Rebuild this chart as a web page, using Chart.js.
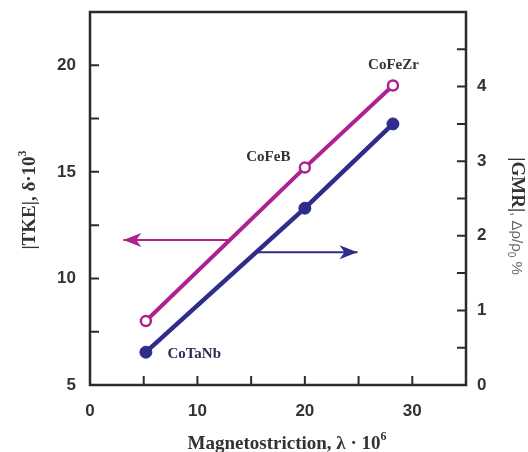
<!DOCTYPE html>
<html>
<head>
<meta charset="utf-8">
<script src="https://cdn.jsdelivr.net/npm/chart.js@4.4.1/dist/chart.umd.min.js"></script>
<style>
  html, body { margin: 0; padding: 0; background: #fff; }
  #wrap { width: 528px; height: 452px; }
</style>
</head>
<body>
<div id="wrap"><canvas id="chart"></canvas></div>
<script>
// ---- data ----
const lambdaX = [5.2, 20.0, 28.2];          // magnetostriction, λ·10^6
const tkeValues = [8.0, 15.2, 19.05];        // |TKE|, δ·10^3 (left axis)
const gmrValues = [0.44, 2.37, 3.5];         // |GMR|, Δρ/ρ0 % (right axis)
const alloyNames = ["CoFeZr", "CoFeB", "CoTaNb"];
const alloyLabelX = [28.25, 16.6, 9.7];      // label anchors, x units
const alloyLabelY = [20.0, 15.67, 6.46];     // label anchors, left axis units

// arrows telling which axis each line uses
const tkeArrowX = [13.0, 3.1];
const tkeArrowY = [11.8, 11.8];
const gmrArrowX = [15.4, 24.9];
const gmrArrowY = [1.78, 1.78];

const xTickLabels = [0, 10, 20, 30];
const leftTickLabels = [5, 10, 15, 20];
const rightTickLabels = [0, 1, 2, 3, 4];

const MAGENTA = "#AE2290";
const BLUE = "#2E2D8B";
const AXIS = "#2b2b2b";
const TICK = 9;

const pts = (xs, ys) => xs.map((x, i) => ({ x, y: ys[i] }));

// frame, inward ticks, arrowheads, labels and titles
const decor = {
  id: "decor",
  beforeDatasetsDraw(chart) {
    const { ctx, chartArea: a, scales } = chart;
    ctx.save();
    ctx.strokeStyle = AXIS;
    ctx.lineWidth = 2;
    ctx.beginPath();
    scales.x.ticks.forEach(t => {
      const px = scales.x.getPixelForValue(t.value);
      ctx.moveTo(px, a.bottom);
      ctx.lineTo(px, a.bottom - TICK);
    });
    scales.y.ticks.forEach(t => {
      const py = scales.y.getPixelForValue(t.value);
      ctx.moveTo(a.left, py);
      ctx.lineTo(a.left + TICK, py);
    });
    scales.y1.ticks.forEach(t => {
      const py = scales.y1.getPixelForValue(t.value);
      ctx.moveTo(a.right, py);
      ctx.lineTo(a.right - TICK, py);
    });
    ctx.stroke();
    ctx.lineWidth = 2.5;
    ctx.strokeRect(a.left, a.top, a.right - a.left, a.bottom - a.top);
    ctx.restore();
  },
  afterDatasetsDraw(chart) {
    const { ctx, scales } = chart;
    ctx.save();

    // arrowheads at the last point of the arrow datasets
    [2, 3].forEach(i => {
      const meta = chart.getDatasetMeta(i);
      const p0 = meta.data[0], p1 = meta.data[1];
      const ang = Math.atan2(p1.y - p0.y, p1.x - p0.x);
      ctx.save();
      ctx.translate(p1.x, p1.y);
      ctx.rotate(ang);
      ctx.fillStyle = chart.data.datasets[i].borderColor;
      ctx.beginPath();
      ctx.moveTo(0, 0);
      ctx.lineTo(-18, -7);
      ctx.lineTo(-13, 0);
      ctx.lineTo(-18, 7);
      ctx.closePath();
      ctx.fill();
      ctx.restore();
    });

    // alloy names
    ctx.font = "bold 15px 'Liberation Serif', 'Times New Roman', serif";
    ctx.textAlign = "center";
    ctx.textBaseline = "middle";
    alloyNames.forEach((name, i) => {
      ctx.fillStyle = name === "CoTaNb" ? "#2c2c55" : "#333";
      ctx.fillText(name, scales.x.getPixelForValue(alloyLabelX[i]),
        scales.y.getPixelForValue(alloyLabelY[i]));
    });
    ctx.restore();
  },
  afterDraw(chart) {
    const { ctx } = chart;
    const serifB = s => "bold " + s + "px 'Liberation Serif', 'Times New Roman', serif";
    const sans = s => s + "px 'Liberation Sans', Arial, sans-serif";

    // draws pieces [text, font, colour, dy] centred on the origin
    const runs = parts => {
      let w = 0;
      parts.forEach(p => { ctx.font = p[1]; w += ctx.measureText(p[0]).width; });
      let x = -w / 2;
      parts.forEach(p => {
        ctx.font = p[1];
        ctx.fillStyle = p[2];
        ctx.fillText(p[0], x, p[3]);
        x += ctx.measureText(p[0]).width;
      });
    };

    ctx.save();
    ctx.textAlign = "left";
    ctx.textBaseline = "alphabetic";

    // bottom title
    ctx.save();
    ctx.translate(287, 449);
    runs([
      ["Magnetostriction, λ · 10", serifB(19), "#333", 0],
      ["6", serifB(12), "#333", -9]
    ]);
    ctx.restore();

    // left title
    ctx.save();
    ctx.translate(35, 200);
    ctx.rotate(-Math.PI / 2);
    runs([
      ["|TKE|, δ·10", serifB(19), "#333", 0],
      ["3", serifB(12), "#333", -9]
    ]);
    ctx.restore();

    // right title
    ctx.save();
    ctx.translate(512, 216);
    ctx.rotate(Math.PI / 2);
    runs([
      ["|GMR|", serifB(19), "#333", 0],
      [", Δρ/ρ", sans(15), "#666", 0],
      ["0", sans(10), "#666", 4],
      [" %", sans(15), "#666", 0]
    ]);
    ctx.restore();

    ctx.restore();
  }
};

const tickFont = { family: "'Liberation Sans', Arial, sans-serif", size: 17, weight: "bold" };

new Chart(document.getElementById("chart"), {
  type: "scatter",
  data: {
    datasets: [
      {
        label: "TKE",
        data: pts(lambdaX, tkeValues),
        yAxisID: "y",
        showLine: true,
        borderColor: MAGENTA,
        borderWidth: 4,
        pointRadius: 5,
        pointBorderWidth: 2.5,
        pointBackgroundColor: "#fff",
        pointBorderColor: MAGENTA
      },
      {
        label: "GMR",
        data: pts(lambdaX, gmrValues),
        yAxisID: "y1",
        showLine: true,
        borderColor: BLUE,
        borderWidth: 4.5,
        pointRadius: 6,
        pointBorderWidth: 1,
        pointBackgroundColor: BLUE,
        pointBorderColor: BLUE
      },
      {
        label: "tke arrow",
        data: pts(tkeArrowX, tkeArrowY),
        yAxisID: "y",
        showLine: true,
        borderColor: MAGENTA,
        borderWidth: 2,
        pointRadius: 0
      },
      {
        label: "gmr arrow",
        data: pts(gmrArrowX, gmrArrowY),
        yAxisID: "y1",
        showLine: true,
        borderColor: BLUE,
        borderWidth: 2,
        pointRadius: 0
      }
    ]
  },
  options: {
    responsive: true,
    maintainAspectRatio: false,
    animation: false,
    layout: { padding: { top: 12, left: 0, right: 0, bottom: 0 } },
    plugins: { legend: { display: false }, tooltip: { enabled: false } },
    scales: {
      x: {
        type: "linear",
        min: 0,
        max: 35,
        grid: { display: false, drawTicks: false },
        border: { display: false },
        ticks: {
          stepSize: 5,
          padding: 16,
          color: "#333",
          font: tickFont,
          maxRotation: 0,
          autoSkip: false,
          callback: v => (xTickLabels.includes(v) ? v : "")
        },
        afterFit: s => { s.height = 67; s.paddingLeft = 0; s.paddingRight = 0; }
      },
      y: {
        position: "left",
        min: 5,
        max: 22.5,
        grid: { display: false, drawTicks: false },
        border: { display: false },
        ticks: {
          stepSize: 2.5,
          padding: 14,
          color: "#333",
          font: tickFont,
          autoSkip: false,
          callback: v => (leftTickLabels.includes(v) ? v : "")
        },
        afterFit: s => { s.width = 90; s.paddingTop = 0; s.paddingBottom = 0; }
      },
      y1: {
        position: "right",
        min: 0,
        max: 5,
        grid: { display: false, drawTicks: false },
        border: { display: false },
        ticks: {
          stepSize: 0.5,
          padding: 11,
          color: "#333",
          font: tickFont,
          autoSkip: false,
          callback: v => (rightTickLabels.includes(v) ? v : "")
        },
        afterFit: s => { s.width = 62; s.paddingTop = 0; s.paddingBottom = 0; }
      }
    }
  },
  plugins: [decor]
});
</script>
</body>
</html>
